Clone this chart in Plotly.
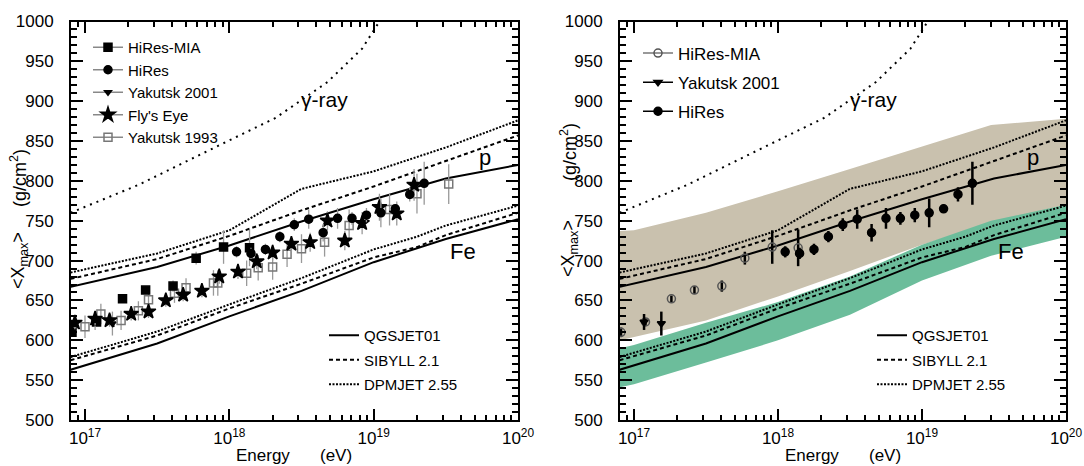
import plotly.graph_objects as go

# ---------------- model curves: log10(E/eV) -> <Xmax> (g/cm^2) ----------------
model_logE = [16.9, 17.5, 18.0, 18.5, 19.0, 19.5, 20.0]
qgs_p = [667, 692, 719, 749, 777, 803, 820]
sib_p = [677, 702, 731, 763, 793, 825, 857]
dpm_p = [685, 709, 738, 790, 812, 842, 876]

fe_logE = [16.9, 17.5, 18.0, 18.5, 19.0, 19.3, 19.5, 20.0]
qgs_fe = [563, 596, 630, 662, 698, 715, 727, 752]
sib_fe = [575, 606, 640, 671, 704, 717, 732, 760]
dpm_fe = [579, 611, 645, 678, 714, 730, 744, 769]

gamma_logE = [16.9, 17.37, 17.99, 18.32, 18.68, 18.92, 19.04, 19.15]
gamma_x = [760, 795, 850, 879, 924, 966, 1000, 1030]

# ---------------- right panel bands ----------------
band_logE = [16.9, 17.0, 17.5, 18.0, 18.5, 19.0, 19.48, 20.0]
mixed_hi = [737, 738, 760, 787, 815, 843, 870, 878]
mixed_lo = [600, 604, 625, 655, 687, 720, 747, 770]
iron_hi = [590, 594, 622, 648, 680, 720, 750, 770]
iron_lo = [541, 545, 572, 600, 632, 675, 706, 730]

# ---------------- measurements ----------------
hiresmia_logE = [16.91, 17.08, 17.26, 17.42, 17.61, 17.77, 17.96, 18.14]
hiresmia = [610, 623, 652, 663, 668, 703, 717, 716]
hiresmia_err = [6, 5, 4, 5, 7, 8, 21, 23]

hires_logE = [18.05, 18.15, 18.25, 18.35, 18.45, 18.55, 18.65, 18.75, 18.85, 18.95, 19.05, 19.15, 19.25, 19.35]
hires = [711, 709, 714, 730, 745, 752, 735, 753, 753, 757, 760, 765, 783, 797]
hires_err = [7, 7, 7, 7, 8, 12, 11, 13, 8, 9, 18, 5, 9, 27]

yak01_logE = [17.07, 17.19]
yak01 = [623, 621]
yak01_err = [10, 15]

flyseye_logE = [16.93, 17.07, 17.17, 17.32, 17.44, 17.56, 17.68, 17.81, 17.93, 18.06,
                18.19, 18.30, 18.43, 18.56, 18.68, 18.80, 18.92, 19.04, 19.16, 19.28]
flyseye = [622, 627, 625, 633, 636, 650, 657, 662, 680, 686,
           699, 710, 721, 723, 750, 725, 747, 767, 759, 795]
flyseye_err = [8, 8, 8, 8, 8, 8, 8, 8, 9, 9,
               10, 10, 10, 12, 12, 12, 14, 17, 15, 20]

yak93_logE = [17.00, 17.11, 17.25, 17.37, 17.44, 17.62, 17.70, 17.89, 17.92, 18.12,
              18.20, 18.30, 18.40, 18.50, 18.66, 18.83, 19.11, 19.30, 19.52]
yak93 = [617, 633, 625, 637, 651, 659, 666, 672, 672, 684,
         691, 692, 708, 715, 723, 744, 764, 784, 796]
yak93_err = [14, 13, 12, 12, 12, 12, 12, 16, 16, 16,
             16, 16, 16, 18, 18, 20, 20, 25, 25]

x_tick_labels = ["10<sup>17</sup>", "10<sup>18</sup>", "10<sup>19</sup>", "10<sup>20</sup>"]
y_ticks = [500, 550, 600, 650, 700, 750, 800, 850, 900, 950, 1000]

W, H = 1084, 466
FONT = "Liberation Sans, Arial, Helvetica, sans-serif"
DASH = "4px,3px"
DOT = "2px,1.5px"


def E(lst):
    return [10.0 ** v for v in lst]


fig = go.Figure()


def add_models(xa, ya, leg):
    styles = [("QGSJET01", "solid", qgs_p, qgs_fe),
              ("SIBYLL 2.1", DASH, sib_p, sib_fe),
              ("DPMJET 2.55", DOT, dpm_p, dpm_fe)]
    for name, dash, p, fe in styles:
        w = 2.0
        fig.add_trace(go.Scatter(x=E(model_logE), y=p, mode="lines", name=name,
                                 line=dict(color="black", width=w, dash=dash),
                                 xaxis=xa, yaxis=ya, legend=leg, legendgroup=name + leg,
                                 hoverinfo="skip"))
        fig.add_trace(go.Scatter(x=E(fe_logE), y=fe, mode="lines", showlegend=False,
                                 line=dict(color="black", width=w, dash=dash),
                                 xaxis=xa, yaxis=ya, hoverinfo="skip"))
    fig.add_trace(go.Scatter(x=E(gamma_logE), y=gamma_x, mode="lines", showlegend=False,
                             line=dict(color="black", width=2, dash="2px,5px"),
                             xaxis=xa, yaxis=ya, hoverinfo="skip"))


def pts(xa, ya, lx, ly, le, symbol, size, color, lcolor, ewidth, ecolor):
    fig.add_trace(go.Scatter(
        x=E(lx), y=ly, mode="markers", showlegend=False,
        marker=dict(symbol=symbol, size=size, color=color,
                    line=dict(color=lcolor, width=1.5)),
        error_y=dict(type="data", array=le, color=ecolor, thickness=ewidth, width=0),
        xaxis=xa, yaxis=ya))


def legkey(leg, name, symbol, size, color, lcolor, linecolor):
    fig.add_trace(go.Scatter(
        x=[None], y=[None], mode="lines+markers", name=name,
        marker=dict(symbol=symbol, size=size, color=color, line=dict(color=lcolor, width=1.5)),
        line=dict(color=linecolor, width=1.5),
        legend=leg, legendgroup=name + leg))


# ---------------- left panel ----------------
add_models("x", "y", "legend3")
pts("x", "y", yak93_logE, yak93, yak93_err, "square-open", 8, "#777", "#777", 1.3, "#999")
pts("x", "y", hiresmia_logE, hiresmia, hiresmia_err, "square", 8, "black", "black", 1.3, "#999")
pts("x", "y", yak01_logE, yak01, yak01_err, "triangle-down", 6, "black", "black", 1.3, "#999")
pts("x", "y", flyseye_logE, flyseye, flyseye_err, "star", 11, "black", "black", 1.3, "#999")
pts("x", "y", hires_logE, hires, hires_err, "circle", 8, "black", "black", 1.3, "#999")
legkey("legend", "HiRes-MIA", "square", 8, "black", "black", "#888")
legkey("legend", "HiRes", "circle", 8, "black", "black", "#888")
legkey("legend", "Yakutsk 2001", "triangle-down", 6, "black", "black", "#888")
legkey("legend", "Fly's Eye", "star", 11, "black", "black", "#888")
legkey("legend", "Yakutsk 1993", "square-open", 8, "#777", "#777", "#888")

# ---------------- right panel ----------------
fig.add_trace(go.Scatter(x=E(band_logE + band_logE[::-1]), y=mixed_hi + mixed_lo[::-1],
                         fill="toself", fillcolor="#c9c1ae", line=dict(width=0),
                         mode="lines", showlegend=False, xaxis="x2", yaxis="y2", hoverinfo="skip"))
fig.add_trace(go.Scatter(x=E(band_logE + band_logE[::-1]), y=iron_hi + iron_lo[::-1],
                         fill="toself", fillcolor="#6cbd9b", line=dict(width=0),
                         mode="lines", showlegend=False, xaxis="x2", yaxis="y2", hoverinfo="skip"))
add_models("x2", "y2", "legend4")
pts("x2", "y2", hiresmia_logE, hiresmia, hiresmia_err, "circle-open", 8, "#555", "#555", 2.5, "black")
pts("x2", "y2", yak01_logE, yak01, yak01_err, "triangle-down", 7, "black", "black", 2.5, "black")
pts("x2", "y2", hires_logE, hires, hires_err, "circle", 8, "black", "black", 2.5, "black")
legkey("legend2", "HiRes-MIA", "circle-open", 8, "#555", "#555", "#777")
legkey("legend2", "Yakutsk 2001", "triangle-down", 7, "black", "black", "black")
legkey("legend2", "HiRes", "circle", 8, "black", "black", "black")

# ---------------- axes ----------------
minor_vals = []
for d in range(16, 20):
    for k in range(2, 10):
        minor_vals.append(k * 10.0 ** d)

Y0, Y1 = 21.5, 420.0


def xaxis(dom):
    return dict(type="log", domain=dom, range=[16.903, 20.0], automargin=False,
                tickmode="array", tickvals=E([17, 18, 19, 20]), ticktext=x_tick_labels,
                ticks="inside", ticklen=11, tickwidth=1.6, tickcolor="black",
                minor=dict(tickmode="array", tickvals=minor_vals, ticks="inside", ticklen=5,
                           tickwidth=1.6, tickcolor="black", showgrid=False),
                showline=True, linecolor="black", linewidth=2, mirror="allticks",
                showgrid=False, zeroline=False, ticklabelstandoff=2,
                tickfont=dict(family=FONT, size=17, color="black"))


def yaxis(anchor):
    return dict(domain=[1 - Y1 / H, 1 - Y0 / H], range=[500, 1000], anchor=anchor,
                automargin=False, tickmode="array", tickvals=y_ticks,
                ticks="inside", ticklen=12, tickwidth=1.6, tickcolor="black",
                minor=dict(dtick=10, ticks="inside", ticklen=6, tickwidth=1.6,
                           tickcolor="black", showgrid=False),
                showline=True, linecolor="black", linewidth=2, mirror="allticks",
                showgrid=False, zeroline=False, ticklabelstandoff=12,
                tickfont=dict(family=FONT, size=17, color="black"))


fig.update_layout(
    template="none",
    width=W, height=H, margin=dict(l=0, r=0, t=0, b=0, autoexpand=False),
    paper_bgcolor="white", plot_bgcolor="white",
    font=dict(family=FONT, color="black"),
    xaxis=dict(xaxis([71 / W, 518 / W]), anchor="y"),
    yaxis=yaxis("x"),
    xaxis2=dict(xaxis([620 / W, 1066 / W]), anchor="y2"),
    yaxis2=yaxis("x2"),
    legend=dict(x=88 / W, y=1 - 31 / H, xanchor="left", yanchor="top", bgcolor="rgba(0,0,0,0)",
                font=dict(size=15, family=FONT), traceorder="grouped", tracegroupgap=0, itemwidth=30),
    legend2=dict(x=638 / W, y=1 - 35.5 / H, xanchor="left", yanchor="top", bgcolor="rgba(0,0,0,0)",
                 font=dict(size=17, family=FONT), traceorder="grouped", tracegroupgap=4, itemwidth=30),
    legend3=dict(x=324 / W, y=1 - 319 / H, xanchor="left", yanchor="top", bgcolor="rgba(0,0,0,0)",
                 font=dict(size=15, family=FONT), traceorder="grouped", tracegroupgap=2, itemwidth=30),
    legend4=dict(x=872 / W, y=1 - 319 / H, xanchor="left", yanchor="top", bgcolor="rgba(0,0,0,0)",
                 font=dict(size=15, family=FONT), traceorder="grouped", tracegroupgap=2, itemwidth=30),
)

# ---------------- labels ----------------
for xr, yr in (("x", "y"), ("x2", "y2")):
    fig.add_annotation(x=18.66, y=902, xref=xr, yref=yr, text="γ-ray", showarrow=False,
                       font=dict(size=21, family=FONT))
    fig.add_annotation(x=19.77, y=829, xref=xr, yref=yr, text="p", showarrow=False,
                       font=dict(size=22, family=FONT))
    fig.add_annotation(x=19.62, y=711, xref=xr, yref=yr, text="Fe", showarrow=False,
                       font=dict(size=22, family=FONT))

for ex, ux in ((263, 336), (811.5, 884.5)):
    fig.add_annotation(x=ex / W, y=1 - 455 / H, xref="paper", yref="paper", xanchor="center",
                       yanchor="middle", text="Energy", showarrow=False,
                       font=dict(size=17, family=FONT))
    fig.add_annotation(x=ux / W, y=1 - 455 / H, xref="paper", yref="paper", xanchor="center",
                       yanchor="middle", text="(eV)", showarrow=False,
                       font=dict(size=17, family=FONT))
for cx, cy1, cy2 in ((19, 261, 178), (569, 249, 152)):
    fig.add_annotation(x=cx / W, y=1 - cy1 / H, xref="paper", yref="paper", textangle=-90,
                       xanchor="center", yanchor="middle",
                       text="&lt;X<sub>max</sub>&gt;", showarrow=False, font=dict(size=18, family=FONT))
    fig.add_annotation(x=cx / W, y=1 - cy2 / H, xref="paper", yref="paper", textangle=-90,
                       xanchor="center", yanchor="middle",
                       text="(g/cm<sup>2</sup>)", showarrow=False, font=dict(size=18, family=FONT))

fig.write_html("out.html")
